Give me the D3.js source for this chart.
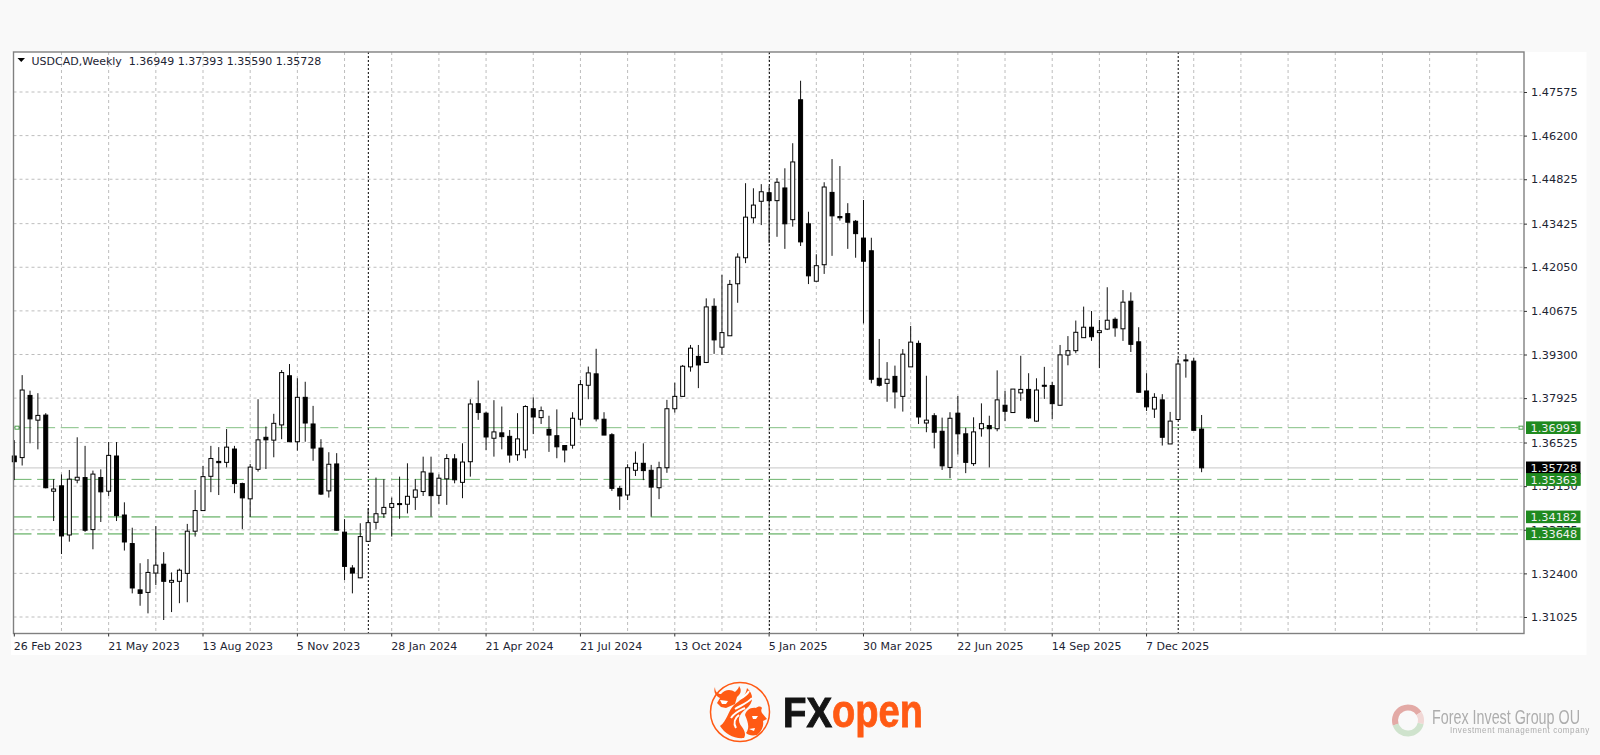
<!DOCTYPE html>
<html><head><meta charset="utf-8">
<script src="https://d3js.org/d3.v7.min.js"></script>
<style>html,body{margin:0;padding:0;background:#f9f9f9}svg{display:block;filter:blur(0.35px)}text{font-family:"DejaVu Sans",sans-serif}</style>
</head><body><svg id="c" width="1600" height="755"></svg>
<script>
const opens=[1.3610,1.3605,1.3801,1.3723,1.3739,1.3499,1.3516,1.3361,1.3534,1.3542,1.3378,1.3542,1.3499,1.3610,1.3424,1.3334,1.3188,1.3180,1.3241,1.3269,1.3212,1.3215,1.3240,1.3373,1.3438,1.3546,1.3593,1.3590,1.3632,1.3523,1.3475,1.3568,1.3669,1.3660,1.3708,1.3863,1.3655,1.3795,1.3711,1.3635,1.3500,1.3585,1.3370,1.3257,1.3226,1.3341,1.3401,1.3428,1.3448,1.3460,1.3458,1.3480,1.3498,1.3556,1.3486,1.3538,1.3601,1.3527,1.3592,1.3775,1.3745,1.3666,1.3683,1.3672,1.3614,1.3629,1.3759,1.3731,1.3694,1.3674,1.3643,1.3644,1.3726,1.3833,1.3869,1.3726,1.3677,1.3508,1.3487,1.3565,1.3587,1.3565,1.3510,1.3573,1.3759,1.3798,1.3891,1.3924,1.3905,1.4082,1.3953,1.3989,1.4153,1.4235,1.4361,1.4413,1.4440,1.4415,1.4455,1.4355,1.4733,1.4342,1.4161,1.4213,1.4441,1.4365,1.4374,1.4350,1.4297,1.4257,1.3855,1.3839,1.3861,1.3798,1.3891,1.3965,1.3714,1.3737,1.3688,1.3574,1.3745,1.3680,1.3586,1.3696,1.3706,1.3696,1.3770,1.3747,1.3809,1.3820,1.3720,1.3833,1.3832,1.3770,1.3928,1.3942,1.3983,1.4016,1.3999,1.4010,1.4041,1.4011,1.4098,1.3970,1.3815,1.3758,1.3787,1.3648,1.3725,1.3913,1.3909,1.36949];
const highs=[1.3660,1.3865,1.3816,1.3808,1.3745,1.3537,1.3552,1.3566,1.3669,1.3642,1.3564,1.3568,1.3654,1.3654,1.3464,1.3384,1.3272,1.3285,1.3389,1.3307,1.3243,1.3255,1.3396,1.3503,1.3579,1.3642,1.3638,1.3695,1.3642,1.3526,1.3585,1.3789,1.3703,1.3743,1.3881,1.3900,1.3855,1.3844,1.3768,1.3663,1.3622,1.3619,1.3411,1.3266,1.3398,1.3445,1.3542,1.3537,1.3479,1.3545,1.3587,1.3537,1.3608,1.3608,1.3552,1.3616,1.3616,1.3650,1.3789,1.3848,1.3750,1.3786,1.3766,1.3692,1.3745,1.3770,1.3795,1.3766,1.3737,1.3757,1.3643,1.3748,1.3850,1.3892,1.3948,1.3748,1.3682,1.3516,1.3584,1.3624,1.3650,1.3582,1.3592,1.3787,1.3841,1.3897,1.3960,1.3960,1.4107,1.4107,1.4181,1.4165,1.4249,1.4470,1.4454,1.4467,1.4461,1.4486,1.4517,1.4596,1.4793,1.4380,1.4246,1.4473,1.4546,1.4524,1.4407,1.4354,1.4417,1.4298,1.3979,1.3906,1.3895,1.3947,1.4020,1.3974,1.3863,1.3745,1.3731,1.3748,1.3799,1.3699,1.3732,1.3776,1.3737,1.3880,1.3815,1.3821,1.3926,1.3871,1.3855,1.3891,1.3844,1.3960,1.3988,1.4037,1.4081,1.4067,1.4039,1.4142,1.4047,1.4133,1.4126,1.4016,1.3871,1.3808,1.3805,1.3749,1.3918,1.3931,1.3920,1.37393];
const lows=[1.3534,1.3580,1.3650,1.3631,1.3508,1.3405,1.3301,1.3340,1.3524,1.3371,1.3316,1.3402,1.3484,1.3405,1.3312,1.3177,1.3138,1.3114,1.3203,1.3093,1.3118,1.3146,1.3149,1.3356,1.3438,1.3496,1.3487,1.3574,1.3493,1.3380,1.3418,1.3561,1.3569,1.3606,1.3663,1.3655,1.3627,1.3655,1.3595,1.3487,1.3479,1.3375,1.3219,1.3177,1.3225,1.3339,1.3379,1.3415,1.3356,1.3412,1.3429,1.3440,1.3484,1.3419,1.3459,1.3456,1.3524,1.3477,1.3545,1.3724,1.3629,1.3608,1.3631,1.3589,1.3595,1.3603,1.3679,1.3711,1.3623,1.3603,1.3590,1.3633,1.3706,1.3789,1.3719,1.3676,1.3500,1.3440,1.3471,1.3547,1.3534,1.3419,1.3474,1.3557,1.3747,1.3797,1.3876,1.3824,1.3903,1.3932,1.3929,1.3989,1.4093,1.4218,1.4344,1.4338,1.4281,1.4301,1.4263,1.4333,1.4272,1.4152,1.4160,1.4184,1.4241,1.4352,1.4263,1.4235,1.4028,1.3839,1.3829,1.3781,1.3760,1.3750,1.3891,1.3711,1.3685,1.3634,1.3566,1.3540,1.3615,1.3556,1.3579,1.3671,1.3574,1.3688,1.3720,1.3747,1.3784,1.3727,1.3718,1.3790,1.3727,1.3769,1.3896,1.3934,1.3983,1.3973,1.3887,1.4007,1.3986,1.3973,1.3938,1.3809,1.3752,1.3730,1.3643,1.3648,1.3724,1.3857,1.3691,1.35590];
const closes=[1.3592,1.3818,1.3727,1.3738,1.3510,1.3506,1.3358,1.3537,1.3543,1.3376,1.3553,1.3497,1.3612,1.3422,1.3339,1.3194,1.3177,1.3243,1.3266,1.3215,1.3218,1.3250,1.3373,1.3438,1.3545,1.3602,1.3589,1.3638,1.3523,1.3478,1.3575,1.3661,1.3661,1.3713,1.3873,1.3655,1.3795,1.3714,1.3635,1.3490,1.3584,1.3376,1.3262,1.3241,1.3356,1.3400,1.3428,1.3448,1.3460,1.3457,1.3483,1.3503,1.3560,1.3485,1.3540,1.3602,1.3535,1.3591,1.3774,1.3747,1.3670,1.3686,1.3671,1.3613,1.3664,1.3766,1.3733,1.3753,1.3676,1.3639,1.3629,1.3729,1.3835,1.3872,1.3727,1.3676,1.3508,1.3484,1.3573,1.3587,1.3564,1.3512,1.3573,1.3759,1.3798,1.3893,1.3950,1.3897,1.4080,1.3976,1.3999,1.4151,1.4237,1.4363,1.4401,1.4443,1.4415,1.4473,1.4342,1.4537,1.4285,1.4178,1.4210,1.4458,1.4367,1.4361,1.4347,1.4311,1.4224,1.3852,1.3833,1.3852,1.3812,1.3931,1.3969,1.3733,1.3723,1.3685,1.3579,1.3729,1.3680,1.3590,1.3686,1.3712,1.3696,1.3787,1.3751,1.3821,1.3820,1.3730,1.3818,1.3830,1.3775,1.3929,1.3942,1.4000,1.4016,1.3986,1.4005,1.4038,1.4014,1.4095,1.3962,1.3811,1.3765,1.3795,1.3669,1.3720,1.3900,1.3911,1.3691,1.35728];
const priceTicks=[1.31025,1.32400,1.33775,1.35150,1.36525,1.37925,1.39300,1.40675,1.42050,1.43425,1.44825,1.46200,1.47575];
const dateLabels=["26 Feb 2023","21 May 2023","13 Aug 2023","5 Nov 2023","28 Jan 2024","21 Apr 2024","21 Jul 2024","13 Oct 2024","5 Jan 2025","30 Mar 2025","22 Jun 2025","14 Sep 2025","7 Dec 2025"];
const levels=[1.36993,1.35363,1.34182,1.33648];
const levelWidths=[1,1,1.7,1.7];
const levelOpacity=[.85,1,.75,.75];
const separators=[45,96,148];
const currentPrice=1.35728;
const title="USDCAD,Weekly  1.36949 1.37393 1.35590 1.35728";

const svg=d3.select("#c");
const L=13.5,R=1524,T=52,B=633.5;
const x=d3.scaleLinear().domain([0,186]).range([14.3,1476.8]);
const y=d3.scaleLinear().domain([1.31025,1.47575]).range([617,92]);
const axisInk="#1d2433";

svg.append("rect").attr("x",11).attr("y",52).attr("width",1575.5).attr("height",603).attr("fill","#fff");

// grid
const g=svg.append("g");
const gridX=d3.range(6,187,6);
g.selectAll(".gx").data(gridX).join("line").attr("x1",d=>x(d)).attr("x2",d=>x(d)).attr("y1",T).attr("y2",B)
 .attr("stroke","#bdbdbd").attr("stroke-dasharray","3 3");
g.selectAll(".gy").data(priceTicks).join("line").attr("x1",L).attr("x2",R).attr("y1",d=>y(d)).attr("y2",d=>y(d))
 .attr("stroke","#bdbdbd").attr("stroke-dasharray","3 3");
// separators
g.selectAll(".sep").data(separators).join("line").attr("x1",d=>x(d)+.2).attr("x2",d=>x(d)+.2).attr("y1",T).attr("y2",B)
 .attr("stroke","#000").attr("stroke-dasharray","2 2");
// current price line
g.append("line").attr("x1",L).attr("x2",R).attr("y1",y(currentPrice)).attr("y2",y(currentPrice)).attr("stroke","#d2d2d2").attr("stroke-width",1.2);
// levels
levels.forEach((v,i)=>{
  g.append("line").attr("x1",L).attr("x2",1518).attr("y1",y(v)).attr("y2",y(v))
   .attr("stroke","#6fb56f").attr("stroke-width",levelWidths[i]).attr("stroke-opacity",levelOpacity[i]).attr("stroke-dasharray","18 5.6");
});
// endpoints of the first level
[15,1519].forEach(px=>g.append("rect").attr("x",px).attr("y",y(levels[0])-1.5).attr("width",4).attr("height",3).attr("fill","#fff").attr("stroke","#4fa34f"));

// candles
const idx=d3.range(opens.length);
const cg=svg.append("g");
cg.selectAll("line.w").data(idx).join("line").attr("class","w")
 .attr("x1",i=>x(i)).attr("x2",i=>x(i)).attr("y1",i=>y(highs[i])).attr("y2",i=>y(lows[i]))
 .attr("stroke","#111").attr("stroke-width",1);
cg.selectAll("rect.b").data(idx).join("rect").attr("class","b")
 .attr("x",i=>x(i)-2).attr("width",4)
 .attr("y",i=>y(Math.max(opens[i],closes[i])))
 .attr("height",i=>Math.max(1,Math.abs(y(opens[i])-y(closes[i]))))
 .attr("fill",i=>closes[i]<opens[i]?"#000":"#fff").attr("stroke","#000").attr("stroke-width",1);

// border
svg.append("rect").attr("x",L).attr("y",T).attr("width",R-L).attr("height",B-T).attr("fill","none").attr("stroke","#808080").attr("stroke-width",1.4);

// price axis
const ya=svg.append("g").attr("transform",`translate(${R},0)`)
 .call(d3.axisRight(y).tickValues(priceTicks).tickFormat(d3.format(".5f")).tickSize(3).tickPadding(4));
ya.select(".domain").remove();
ya.selectAll("text").attr("font-size",11.3).attr("fill",axisInk).style("font-family",'"DejaVu Sans",sans-serif');
ya.selectAll("line").attr("stroke","#333");

// date axis
const xa=svg.append("g").attr("transform",`translate(0,${B})`);
dateLabels.forEach((t,i)=>{
  const px=x(i*12);
  xa.append("line").attr("x1",px).attr("x2",px).attr("y1",0).attr("y2",3).attr("stroke","#333");
  xa.append("text").attr("x",px-.5).attr("y",16).attr("font-size",11).attr("fill",axisInk).text(t);
});

// level tags
const tag=(v,c)=>{
  svg.append("rect").attr("x",1526).attr("y",y(v)-6.3).attr("width",54.5).attr("height",12.6).attr("fill",c);
  svg.append("text").attr("x",1530.5).attr("y",y(v)+4.2).attr("font-size",11.3).attr("fill","#f0f0f0").text(d3.format(".5f")(v));
};
levels.forEach(v=>tag(v,"#1f8a1f"));
tag(currentPrice,"#000");
tag(levels[1],"#1f8a1f");

// title
svg.append("path").attr("d","M17.5 58 L25 58 L21.25 62 Z").attr("fill","#000");
svg.append("text").attr("x",31.5).attr("y",65).attr("font-size",11).attr("fill",axisInk).style("white-space","pre").text(title);

// text fitted horizontally to a measured width
function fitted(txt,px,py,w,size,family,fill,opts={}){
  const t=svg.append("text").attr("font-size",size).style("font-family",family).attr("fill",fill).text(txt);
  if(opts.weight)t.attr("font-weight",opts.weight);
  if(opts.spacing)t.attr("letter-spacing",opts.spacing);
  if(opts.stroke)t.attr("stroke",fill).attr("stroke-width",opts.stroke);
  const nat=t.node().getComputedTextLength();
  t.attr("transform",`translate(${px},${py}) scale(${w/nat},1)`);
  return t;
}

// FXopen logo
const orange="#ff5a14";
const lg=svg.append("g").attr("transform","translate(740,712)").attr("fill",orange);
lg.append("circle").attr("r",29.5).attr("fill","none").attr("stroke",orange).attr("stroke-width",1.5);
lg.append("path").attr("d","M-25 -25 C-25 -20 -22 -18 -19 -18 C-15 -23 -9 -23 -5 -20 C-3 -22 -1 -24 -1 -26 C2 -22 1 -18 -3 -15 L-5 -8 L-14 -4 L-19 -5 L-23 -9 L-20 -14 C-24 -16 -27 -20 -25 -25 Z");
lg.append("path").attr("d","M-6 -7 C1 -12 6 -17 7 -24 C14 -18 14 -9 6 -3 C-2 3 -3 9 2 15 C5 19 6 23 4 26 C-6 27 -15 22 -20 14 C-13 9 -12 -1 -6 -7 Z");
lg.append("path").attr("d","M5 3 C6 -1 10 -5 16 -4 C18 -6 21 -6 22 -4 C21 -2 21 -1 22 1 L27 7 L23 9 C24 14 22 19 17 23 C12 24 8 23 6 21 C10 16 8 10 5 3 Z");
lg.append("path").attr("d","M0 -13 C5 -16 8 -19 9 -21 M-5 -3 C2 -7 9 -10 12 -14 M-9 6 C-5 0 1 -2 5 -4 M-4 16 C-7 11 -5 6 -1 3").attr("fill","none").attr("stroke","#fff").attr("stroke-width",2);
lg.append("path").attr("d","M-20 -12 L-12 -11 L-14 -8 L-18 -8 Z M12 4 L18 4 L16 7 L13 7 Z M9 17 L15 16 L14 19 Z").attr("fill","#fff");
fitted("FX",783,727,49,42,'"Liberation Sans",sans-serif',"#141414",{weight:700,stroke:1});
fitted("open",832,727,91,47,'"Liberation Sans",sans-serif',orange,{weight:700,stroke:.8});

// Forex Invest Group OU mark
const arc=d3.arc().innerRadius(10).outerRadius(16);
const fg=svg.append("g").attr("transform","translate(1408,720.5)");
fg.append("path").attr("d",arc({startAngle:-1.9,endAngle:1.0})).attr("fill","#e3aaa6");
fg.append("path").attr("d",arc({startAngle:1.0,endAngle:1.8})).attr("fill","#f1d8d6");
fg.append("path").attr("d",arc({startAngle:1.8,endAngle:4.4})).attr("fill","#cfe3cd");
fitted("Forex Invest Group OU",1432,724,148,21,'"Liberation Sans",sans-serif',"#adadad");
fitted("Investment management company",1450,733,140,8.5,'"Liberation Sans",sans-serif',"#adadad",{spacing:.6});
</script></body></html>
